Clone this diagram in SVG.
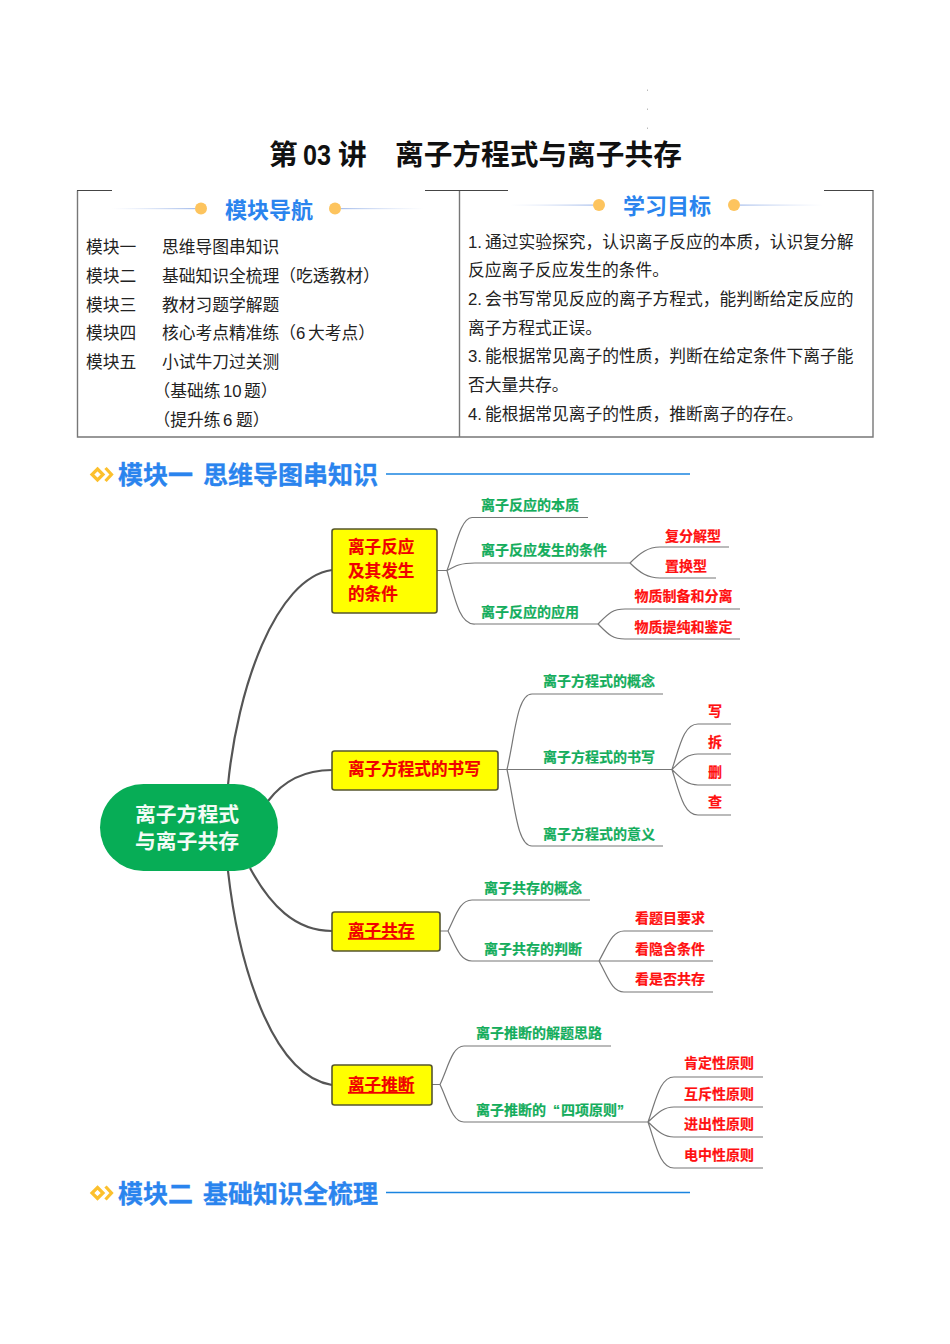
<svg xmlns="http://www.w3.org/2000/svg" width="950" height="1344" viewBox="0 0 950 1344">
<style>
text{font-family:"Liberation Sans","Noto Sans CJK SC",sans-serif}
.body{font-size:16.75px;fill:#222}
.title{font-size:28.7px;font-weight:700;fill:#111}
.head{font-size:22px;font-weight:700;fill:#2a84ee}
.mod{font-size:25px;font-weight:700;fill:#2a84ee;stroke:#2a84ee;stroke-width:.3}
.g{font-size:14px;font-weight:700;fill:#14ad5c;stroke:#14ad5c;stroke-width:.2}
.r{font-size:14px;font-weight:700;fill:#ff1010;stroke:#ff1010;stroke-width:.2}
.n{font-size:16.6px;font-weight:700;fill:#f00000;stroke:#f00000;stroke-width:.2}
.u{text-decoration:underline}
.box{fill:#ffff00;stroke:#56562e;stroke-width:1.6}
.frame{fill:none;stroke:#777;stroke-width:1.4}
.frametop{fill:none;stroke:#444;stroke-width:1}
.main{fill:none;stroke:#555;stroke-width:2.2}
.br{fill:none;stroke:#777;stroke-width:1.2}
.dot{fill:#fdc45e}
.rule{stroke:#1a84e0;stroke-width:1.5}
.ic{fill:none;stroke:#fcc02d;stroke-width:3.2}
</style>
<defs>
<linearGradient id="fr"><stop offset="0" stop-color="#c9d6f2" stop-opacity="0"/><stop offset="1" stop-color="#a8bfec"/></linearGradient>
<linearGradient id="fl"><stop offset="0" stop-color="#a8bfec"/><stop offset="1" stop-color="#c9d6f2" stop-opacity="0"/></linearGradient>
<g id="icon"><path class="ic" d="M97.500 469l5.500 5.500-5.500 5.500-5.500-5.500z"/><path class="ic" d="M105.500 468l6 6.500-6 6.500" stroke-width="2.400"/></g>
</defs>
<g id="specks" fill="#bbb"><rect x="647" y="89.500" width="1" height="1.500"/><rect x="647" y="108.500" width="1" height="1.500"/><rect x="647" y="127.500" width="1" height="1.500"/></g>
<g id="title"><text class="title" x="269" y="164.500">第</text><text class="title" x="303" y="164.500" textLength="28" lengthAdjust="spacingAndGlyphs">03</text><text class="title" x="338" y="164.500">讲</text><text class="title" x="395" y="164.500">离子方程式与离子共存</text></g>

<g id="table">
<path class="frame" d="M77.500 190.500V437H873V190.500M459.500 190.500V437"/>
<path class="frametop" d="M112 190.500H77M425 190.500H508M824 190.500H873.500"/>
</g>
<g id="nav-head">
<rect x="112" y="208" width="83" height="1.200" fill="url(#fr)"/><rect x="341" y="208" width="83" height="1.200" fill="url(#fl)"/>
<circle class="dot" cx="201" cy="208.500" r="6"/><circle class="dot" cx="335" cy="208.500" r="6"/>
<text class="head" x="225" y="218">模块导航</text>
</g>
<g id="nav-list">
<text class="body" x="86" y="252.500">模块一</text><text class="body" x="162" y="252.500">思维导图串知识</text>
<text class="body" x="86" y="281.500">模块二</text><text class="body" x="162" y="281.500">基础知识全梳理（吃透教材）</text>
<text class="body" x="86" y="310.500">模块三</text><text class="body" x="162" y="310.500">教材习题学解题</text>
<text class="body" x="86" y="338.500">模块四</text><text class="body" x="162" y="338.500">核心考点精准练（<tspan x="296">6</tspan><tspan x="308">大考点）</tspan></text>
<text class="body" x="86" y="367.500">模块五</text><text class="body" x="162" y="367.500">小试牛刀过关测</text>
<text class="body" x="153.500" y="396.500">（基础练<tspan x="223">10</tspan><tspan x="244">题）</tspan></text>
<text class="body" x="153.500" y="425.500">（提升练<tspan x="223">6</tspan><tspan x="236">题）</tspan></text>
</g>
<g id="goal-head">
<rect x="510" y="204.500" width="83" height="1.200" fill="url(#fr)"/><rect x="740" y="204.500" width="83" height="1.200" fill="url(#fl)"/>
<circle class="dot" cx="599" cy="205" r="6"/><circle class="dot" cx="734" cy="205" r="6"/>
<text class="head" x="623" y="214">学习目标</text>
</g>
<g id="goal-list">
<text class="body" x="468" y="248">1.<tspan x="485">通过实验探究，认识离子反应的本质，认识复分解</tspan></text>
<text class="body" x="468" y="276">反应离子反应发生的条件。</text>
<text class="body" x="468" y="305">2.<tspan x="485">会书写常见反应的离子方程式，能判断给定反应的</tspan></text>
<text class="body" x="468" y="334">离子方程式正误。</text>
<text class="body" x="468" y="362">3.<tspan x="485">能根据常见离子的性质，判断在给定条件下离子能</tspan></text>
<text class="body" x="468" y="391">否大量共存。</text>
<text class="body" x="468" y="420">4.<tspan x="485">能根据常见离子的性质，推断离子的存在。</tspan></text>
</g>

<g id="module1-head">
<use href="#icon"/><text class="mod" y="484"><tspan x="118">模块一</tspan><tspan x="203">思维导图串知识</tspan></text>
<line class="rule" x1="386" y1="474" x2="690" y2="474"/>
</g>
<g id="module2-head">
<use href="#icon" y="718.500"/><text class="mod" y="1202.500"><tspan x="118">模块二</tspan><tspan x="203">基础知识全梳理</tspan></text>
<line class="rule" x1="386" y1="1192.500" x2="690" y2="1192.500"/>
</g>

<g id="connectors">
<path class="main" d="M228 785C237 690 275 578 332 570"/>
<path class="main" d="M268 801C284 780 305 770 332 770"/>
<path class="main" d="M250 868C270 905 295 931 332 931"/>
<path class="main" d="M228 871C238 960 270 1075 332 1085"/>
<path class="br" d="M437 570.500H447C455 550 460 518 472 517.500H588M447 570.500C455 566 460 563 475 563H630M447 570.500C455 600 460 625 475 624H598"/>
<path class="br" d="M630 563C640 553 648 547 660 547H729M630 563C640 573 648 578 660 578H716"/>
<path class="br" d="M598 624C608 614 612 609 625 609H740M598 624C608 634 612 639 625 639H740"/>
<path class="br" d="M498 769.500H507C515 735 517 694 532 694H663M507 769.500H672M507 769.500C515 805 517 846 532 846H663"/>
<path class="br" d="M672 769.500C680 745 684 724 698 724H731M672 769.500C680 762 686 754 698 754H731M672 769.500C680 777 686 785 698 785H731M672 769.500C680 795 684 815 698 815H731"/>
<path class="br" d="M440 931H448C456 915 460 900 472 900H590M448 931C456 947 460 961 472 961H599"/>
<path class="br" d="M599 961C608 945 612 931 624 931H713M599 961H713M599 961C608 977 612 992 624 992H713"/>
<path class="br" d="M432 1084.500H440C448 1068 452 1046 464 1046H611M440 1084.500C448 1101 452 1122 464 1122H648"/>
<path class="br" d="M648 1122C656 1100 660 1077 674 1077H763M648 1122C656 1115 662 1107 674 1107H763M648 1122C656 1129 662 1137 674 1137H763M648 1122C656 1145 660 1168 674 1168H763"/>
</g>

<g id="root"><rect x="100" y="784" width="178" height="87" rx="43.500" fill="#07ad56"/>
<text x="135" y="822" font-size="20.800" font-weight="700" fill="#f4fbf6">离子方程式</text>
<text x="135" y="849" font-size="20.800" font-weight="700" fill="#f4fbf6">与离子共存</text></g>

<g id="node-reaction"><rect class="box" x="332" y="529" width="105" height="84" rx="2.500"/>
<text class="n" x="348" y="553">离子反应</text><text class="n" x="348" y="577">及其发生</text><text class="n" x="348" y="600">的条件</text></g>
<g id="node-writing"><rect class="box" x="332" y="751" width="166" height="39" rx="2.500"/><text class="n" x="348" y="775">离子方程式的书写</text></g>
<g id="node-coexist"><rect class="box" x="332" y="912" width="108" height="39" rx="2.500"/><text class="n u" x="348" y="937">离子共存</text></g>
<g id="node-infer"><rect class="box" x="332" y="1065" width="100" height="40" rx="2.500"/><text class="n u" x="348" y="1091">离子推断</text></g>

<g id="leaf-reaction">
<text class="g" x="481" y="510">离子反应的本质</text>
<text class="g" x="481" y="555">离子反应发生的条件</text>
<text class="g" x="481" y="617">离子反应的应用</text>
<text class="r" x="665" y="541">复分解型</text>
<text class="r" x="665" y="571">置换型</text>
<text class="r" x="634.500" y="601">物质制备和分离</text>
<text class="r" x="634.500" y="632">物质提纯和鉴定</text>
</g>
<g id="leaf-writing">
<text class="g" x="543" y="686">离子方程式的概念</text>
<text class="g" x="543" y="762">离子方程式的书写</text>
<text class="g" x="543" y="839">离子方程式的意义</text>
<text class="r" x="708" y="716">写</text>
<text class="r" x="708" y="747">拆</text>
<text class="r" x="708" y="777">删</text>
<text class="r" x="708" y="807">查</text>
</g>
<g id="leaf-coexist">
<text class="g" x="484" y="893">离子共存的概念</text>
<text class="g" x="484" y="954">离子共存的判断</text>
<text class="r" x="635" y="923">看题目要求</text>
<text class="r" x="635" y="954">看隐含条件</text>
<text class="r" x="635" y="984">看是否共存</text>
</g>
<g id="leaf-infer">
<text class="g" x="476" y="1038">离子推断的解题思路</text>
<text class="g" x="476" y="1115">离子推断的<tspan x="553">“</tspan><tspan x="561">四项原则</tspan><tspan x="617">”</tspan></text>
<text class="r" x="684" y="1068">肯定性原则</text>
<text class="r" x="684" y="1099">互斥性原则</text>
<text class="r" x="684" y="1129">进出性原则</text>
<text class="r" x="684" y="1160">电中性原则</text>
</g>
</svg>
